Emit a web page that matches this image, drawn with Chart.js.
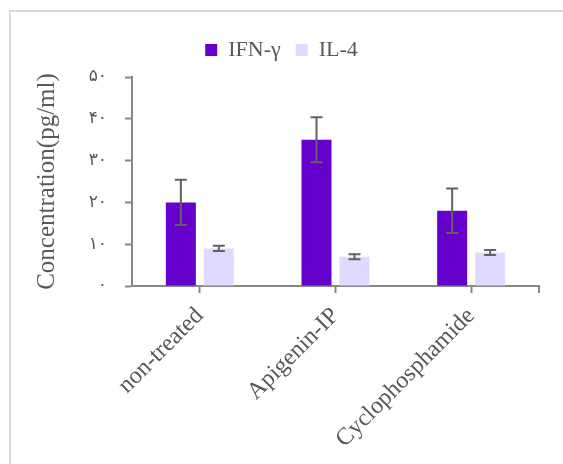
<!DOCTYPE html>
<html>
<head>
<meta charset="utf-8">
<script src="https://cdn.jsdelivr.net/npm/chart.js@4.4.1/dist/chart.umd.min.js"></script>
<style>
  html, body { margin: 0; padding: 0; background: #fff; overflow: hidden; }
  #frame { position: absolute; left: 9px; top: 10px; width: 600px; height: 500px; border: 2px solid #d9d9d9; }
  #wrap { position: absolute; left: 0; top: 0; width: 563px; height: 464px; }
</style>
</head>
<body>
<div id="frame"></div>
<div id="wrap"><canvas id="chart" width="563" height="464"></canvas></div>
<script>
// Cytokine concentrations per treatment group
const categories = ['non-treated', 'Apigenin-IP', 'Cyclophosphamide'];
const ifnValues = [20, 35, 18];
const ifnErrors = [5.4, 5.4, 5.3];
const il4Values = [9, 7, 8];
const il4Errors = [0.6, 0.6, 0.6];
const yTickLabels = ['۰', '۱۰', '۲۰', '۳۰', '۴۰', '۵۰'];

const COLORS = {
  ifn: '#6600cc',
  il4: '#e1d9ff',
  axis: '#878787',
  text: '#595959',
  err: '#626262'
};

// error bars drawn from each bar's position on the y scale
const errorBars = {
  id: 'errorBars',
  afterDatasetsDraw(chart) {
    const ctx = chart.ctx;
    const y = chart.scales.y;
    ctx.save();
    ctx.strokeStyle = COLORS.err;
    ctx.lineWidth = 2;
    chart.data.datasets.forEach((ds, di) => {
      const meta = chart.getDatasetMeta(di);
      meta.data.forEach((bar, i) => {
        const hi = y.getPixelForValue(ds.data[i] + ds.errors[i]);
        const lo = y.getPixelForValue(ds.data[i] - ds.errors[i]);
        const cap = 6;
        ctx.beginPath();
        ctx.moveTo(bar.x, hi); ctx.lineTo(bar.x, lo);
        ctx.moveTo(bar.x - cap, hi); ctx.lineTo(bar.x + cap, hi);
        ctx.moveTo(bar.x - cap, lo); ctx.lineTo(bar.x + cap, lo);
        ctx.stroke();
      });
    });
    ctx.restore();
  }
};

// closing tick at the right end of the x axis
const endTick = {
  id: 'endTick',
  afterDraw(chart) {
    const ctx = chart.ctx;
    const a = chart.chartArea;
    ctx.save();
    ctx.strokeStyle = COLORS.axis;
    ctx.lineWidth = 2;
    ctx.beginPath();
    ctx.moveTo(a.right, a.bottom);
    ctx.lineTo(a.right, a.bottom + 7);
    ctx.stroke();
    ctx.restore();
  }
};

// a bit more room under the legend
const legendSpace = {
  id: 'legendSpace',
  beforeInit(chart) {
    const legend = chart.legend;
    if (!legend) return;
    const fit = legend.fit;
    legend.fit = function () {
      fit.call(this);
      this.height += 6;
    };
  }
};

new Chart(document.getElementById('chart').getContext('2d'), {
  type: 'bar',
  data: {
    labels: categories,
    datasets: [{
      label: 'IFN-γ',
      data: ifnValues,
      errors: ifnErrors,
      backgroundColor: COLORS.ifn,
      categoryPercentage: 0.56,
      barPercentage: 0.79
    }, {
      label: 'IL-4',
      data: il4Values,
      errors: il4Errors,
      backgroundColor: COLORS.il4,
      categoryPercentage: 0.56,
      barPercentage: 0.79
    }]
  },
  options: {
    responsive: false,
    devicePixelRatio: 1,
    animation: false,
    layout: { padding: { left: 24, right: 24, top: 24, bottom: 0 } },
    plugins: {
      legend: {
        position: 'top',
        labels: {
          boxWidth: 12,
          boxHeight: 12,
          padding: 15,
          color: COLORS.text,
          font: { family: 'Liberation Serif', size: 22 }
        }
      },
      tooltip: { enabled: false }
    },
    scales: {
      x: {
        afterFit(scale) { scale.height = 178; },
        grid: {
          offset: false,
          drawOnChartArea: false,
          drawTicks: true,
          tickLength: 7,
          tickWidth: 2,
          tickColor: COLORS.axis
        },
        border: { display: true, color: COLORS.axis, width: 2 },
        ticks: {
          minRotation: 45,
          maxRotation: 45,
          padding: 9,
          color: COLORS.text,
          font: { family: 'Liberation Serif', size: 24 }
        }
      },
      y: {
        min: 0,
        max: 50,
        afterFit(scale) { scale.width = 108; },
        grid: {
          drawOnChartArea: false,
          drawTicks: true,
          tickLength: 7,
          tickWidth: 2,
          tickColor: COLORS.axis
        },
        border: { display: true, color: COLORS.axis, width: 2 },
        ticks: {
          stepSize: 10,
          padding: 18,
          color: COLORS.text,
          font: { family: 'DejaVu Sans', size: 17 },
          callback: (v, i) => yTickLabels[i]
        },
        title: {
          display: true,
          text: 'Concentration(pg/ml)',
          color: COLORS.text,
          padding: { top: 8, bottom: 0 },
          font: { family: 'Liberation Serif', size: 25 }
        }
      }
    }
  },
  plugins: [errorBars, endTick, legendSpace]
});
</script>
</body>
</html>
